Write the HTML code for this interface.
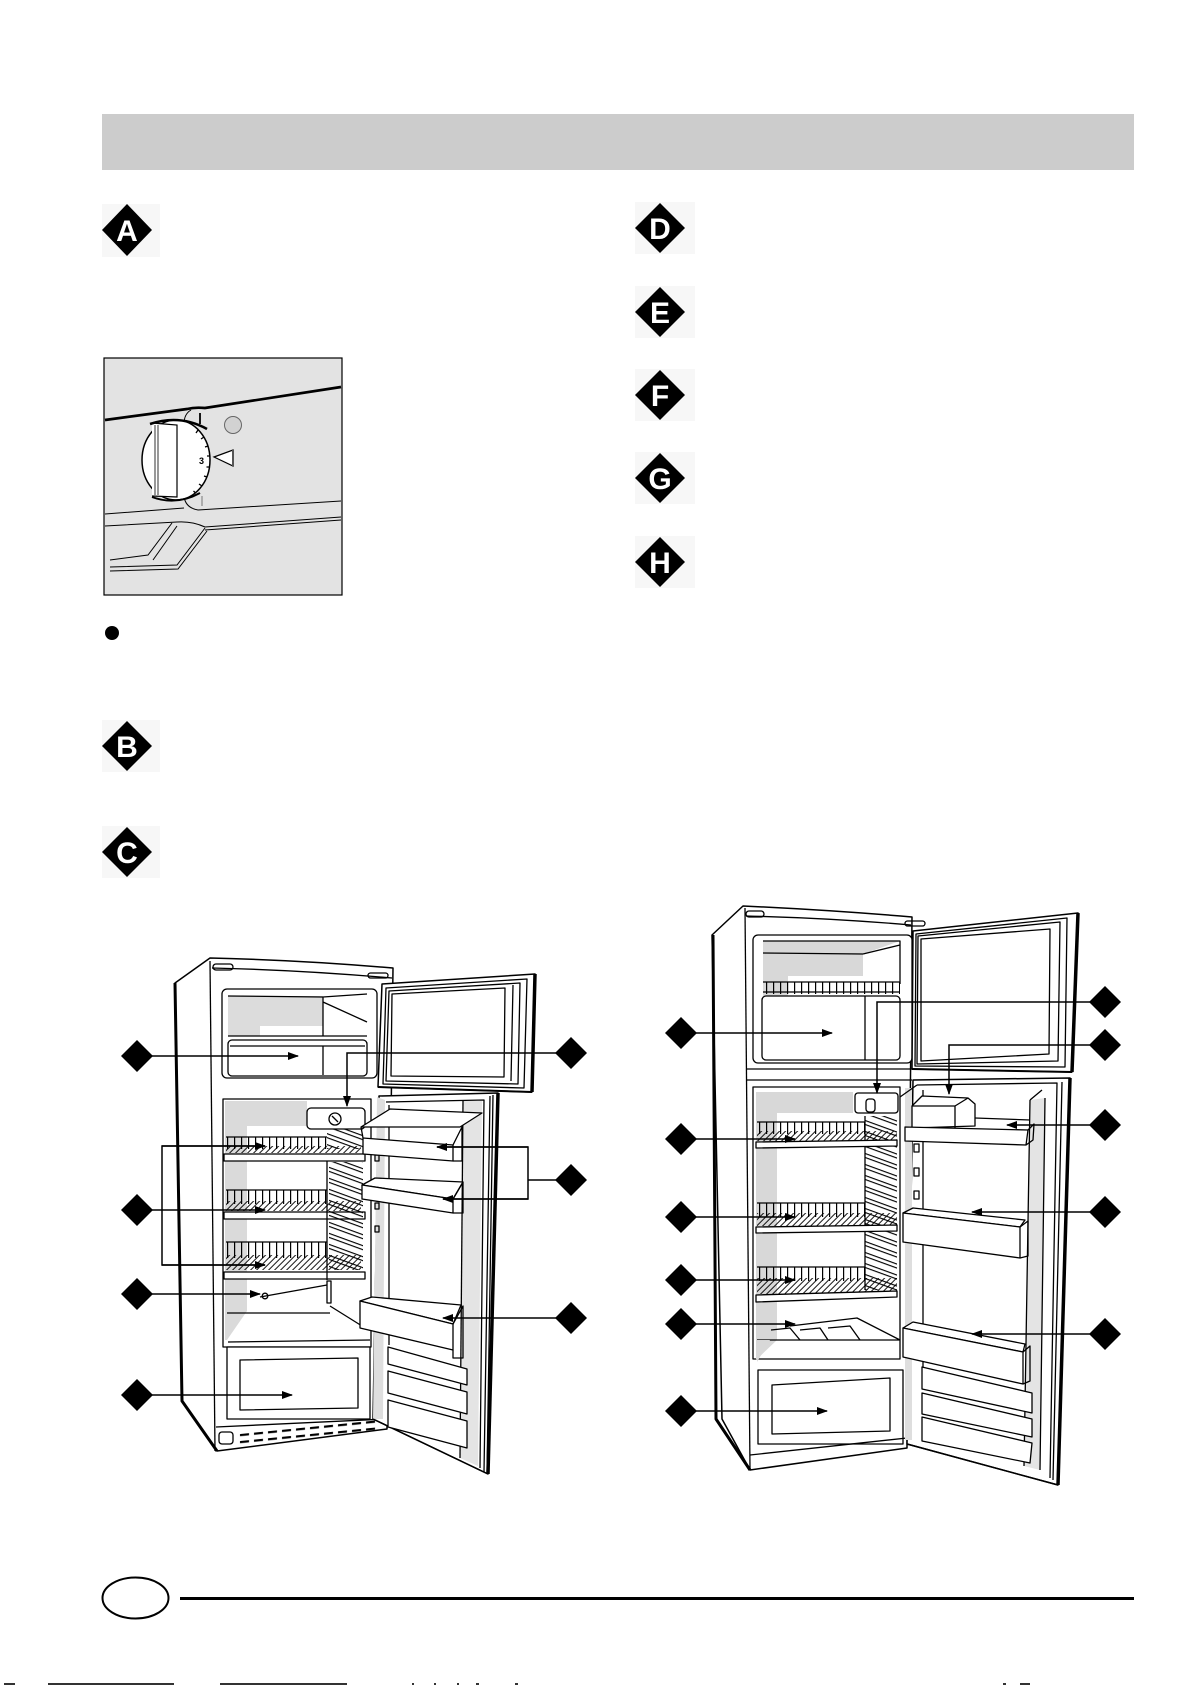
<!DOCTYPE html>
<html><head><meta charset="utf-8"><style>
html,body{margin:0;padding:0;background:#fff;}
svg{display:block}
</style></head><body>
<svg width="1191" height="1685" viewBox="0 0 1191 1685" xmlns="http://www.w3.org/2000/svg" font-family="'Liberation Sans', Arial, sans-serif">
<defs>
 <marker id="ah" markerWidth="11" markerHeight="8" refX="10" refY="4" orient="auto" markerUnits="userSpaceOnUse"><path d="M0,0 L11,4 L0,8 Z" fill="#000"/></marker>
 <pattern id="vw" width="7" height="60" patternUnits="userSpaceOnUse"><rect x="3" y="0" width="1.2" height="60" fill="#000"/></pattern>
 <pattern id="hat" width="6" height="60" patternUnits="userSpaceOnUse" patternTransform="skewX(-45)"><rect x="2" y="0" width="1.3" height="60" fill="#000"/></pattern>
 <pattern id="rib" width="60" height="11" patternUnits="userSpaceOnUse" patternTransform="skewY(20)"><rect x="0" y="2" width="60" height="1.2" fill="#000"/><rect x="0" y="6" width="60" height="1.2" fill="#000"/></pattern>
 <pattern id="vent" width="14" height="12" patternUnits="userSpaceOnUse"><rect x="2" y="1" width="9" height="2.2" fill="#000"/><rect x="2" y="6" width="9" height="2.2" fill="#000"/></pattern>
</defs>

<!-- header bar -->
<rect x="102" y="114" width="1032" height="56" fill="#cccccc"/>

<!-- section markers -->
<g font-weight="bold" font-size="30" text-anchor="middle">
 <rect x="102" y="204" width="58" height="53" fill="#f7f7f7"/>
 <polygon points="127,204 152,230 127,256 102,230" fill="#000"/>
 <text x="127" y="241" fill="#fff">A</text>

 <rect x="102" y="720" width="58" height="52" fill="#f7f7f7"/>
 <polygon points="127,721 152,746 127,771 102,746" fill="#000"/>
 <text x="127" y="757" fill="#fff">B</text>

 <rect x="102" y="826" width="58" height="52" fill="#f7f7f7"/>
 <polygon points="127,827 152,852 127,877 102,852" fill="#000"/>
 <text x="127" y="863" fill="#fff">C</text>

 <rect x="635" y="202" width="60" height="52" fill="#f7f7f7"/>
 <polygon points="660,203 685,228 660,253 635,228" fill="#000"/>
 <text x="660" y="239" fill="#fff">D</text>

 <rect x="635" y="286" width="60" height="52" fill="#f7f7f7"/>
 <polygon points="660,287 685,312 660,337 635,312" fill="#000"/>
 <text x="660" y="323" fill="#fff">E</text>

 <rect x="635" y="369" width="60" height="52" fill="#f7f7f7"/>
 <polygon points="660,370 685,395 660,420 635,395" fill="#000"/>
 <text x="660" y="406" fill="#fff">F</text>

 <rect x="635" y="452" width="60" height="52" fill="#f7f7f7"/>
 <polygon points="660,453 685,478 660,503 635,478" fill="#000"/>
 <text x="660" y="489" fill="#fff">G</text>

 <rect x="635" y="536" width="60" height="52" fill="#f7f7f7"/>
 <polygon points="660,537 685,562 660,587 635,562" fill="#000"/>
 <text x="660" y="573" fill="#fff">H</text>
</g>

<!-- bullet -->
<circle cx="112" cy="633" r="7" fill="#000"/>

<!-- knob panel -->
<g fill="none" stroke="#000">
 <rect x="104" y="358" width="238" height="237" fill="#e3e3e3" stroke-width="1.2"/>
 <path d="M105,420 L187,409 Q195,407 205,408 L341,387" stroke-width="2.7"/>
 <path d="M191,410 Q184,414 184,424 L184,497 Q186,508 198,510" stroke-width="1"/>
 <path d="M105,514 L184,508 M198,510 L341,501" stroke-width="1"/>
 <path d="M105,526 L177,522 Q192,521 205,527 L341,517" stroke-width="1"/>
 <path d="M205,530 L341,520" stroke-width="1"/>
 <path d="M110,560 L148,555 L172,523" stroke-width="1"/>
 <path d="M110,567 L177,565 L205,528" stroke-width="1"/>
 <path d="M110,571 L178,569 L207,531" stroke-width="1"/>
 <path d="M153,560 L177,526" stroke-width="1"/>
 <path d="M200,413 L200,424" stroke-width="1.8"/>
 <path d="M202,496 L202,506" stroke-width="1" stroke="#777"/>
 <circle cx="233" cy="425" r="8.5" fill="#d2d2d2" stroke="#666" stroke-width="1"/>
 <ellipse cx="176" cy="460" rx="34" ry="40" fill="#fff" stroke-width="1.5"/>
 <path d="M152,423 L177,425 L177,497 L152,496" fill="#fff" stroke-width="1.2"/>
 <path d="M155,425 L155,495 M158,425 L158,495" stroke-width="0.8"/>
 <path d="M150,424 Q180,414 207,429" stroke-width="2.6"/>
 <path d="M152,497 Q176,506 200,493" stroke-width="2"/>
 <path d="M198,430 L196,433 M204,437 L201,439 M208,446 L205,447 M210,456 L207,456 M209.5,467 L206.5,467 M207,477 L204,476 M202,486 L199,484 M195.5,493 L193.5,491" stroke-width="1.3"/>
 <polygon points="214,457 233,450 233,466" fill="#fff" stroke-width="1.2"/>
 <path d="M233,450 L233,466" stroke-width="2" stroke="#555"/>
</g>
<text x="199" y="464" font-size="9" font-weight="bold" fill="#000">3</text>

<!-- ================= LEFT FRIDGE ================= -->
<g fill="none" stroke="#000" stroke-width="1.3" stroke-linejoin="round">
 <!-- cabinet -->
 <path d="M175,983 L210,958 Q300,960 393,968 L387,1429 L217,1451 L182,1401 Z" fill="#fff" stroke-width="1.5"/>
 <path d="M175,983 L182,1401 L217,1451" stroke-width="3"/>
 <path d="M210,961 L215,1451"/>
 <path d="M212,968 Q300,970 392,978"/>
 <rect x="213" y="964" width="20" height="6" rx="3"/>
 <rect x="368" y="973" width="20" height="5" rx="2.5"/>
 <!-- freezer compartment -->
 <rect x="222" y="989" width="155" height="89" rx="5" fill="#fff"/>
 <path d="M228,996 L323,996 L323,1026 L260,1026 L260,1036 L228,1036 Z" fill="#dcdcdc" stroke="none"/>
 <path d="M228,996 L323,997 L367,994 M323,997 L323,1036 M228,1036 L367,1036 M323,1002 L367,1022" />
 <rect x="228" y="1040" width="139" height="36" rx="4" fill="#fff"/>
 <path d="M230,1046 L365,1046 M323,1046 L323,1075"/>
 <!-- fridge compartment -->
 <rect x="223" y="1099" width="148" height="248" fill="#fff"/>
 <path d="M225,1101 L307,1101 L307,1126 L247,1126 L247,1311 L227,1340 L225,1340 Z" fill="#dadada" stroke="none"/>
 <rect x="307" y="1108" width="58" height="21" rx="4" fill="#fff"/>
 <circle cx="335" cy="1119" r="6"/>
 <path d="M332,1116 L338,1122"/>
 <rect x="327" y="1129" width="36" height="20" fill="url(#rib)" stroke="none"/>
 <!-- shelves -->
 <rect x="226" y="1137" width="101" height="12" fill="url(#vw)" stroke="none"/>
 <rect x="226" y="1146" width="135" height="7" fill="url(#hat)" stroke="none"/>
 <path d="M226,1137 L327,1137"/>
 <path d="M224,1154 L365,1154 L365,1161 L224,1161 Z" fill="#fff"/>
 <rect x="226" y="1190" width="101" height="14" fill="url(#vw)" stroke="none"/>
 <rect x="226" y="1201" width="135" height="10" fill="url(#hat)" stroke="none"/>
 <path d="M226,1190 L327,1190"/>
 <path d="M224,1212 L365,1212 L365,1219 L224,1219 Z" fill="#fff"/>
 <rect x="226" y="1242" width="101" height="16" fill="url(#vw)" stroke="none"/>
 <rect x="226" y="1255" width="135" height="15" fill="url(#hat)" stroke="none"/>
 <path d="M226,1242 L327,1242"/>
 <path d="M224,1272 L365,1272 L365,1279 L224,1279 Z" fill="#fff"/>
 <rect x="329" y="1162" width="34" height="108" fill="url(#rib)" stroke="none"/>
 <path d="M327,1161 L327,1280"/>
 <!-- lamp / rest -->
 <path d="M260,1297 L327,1285"/>
 <circle cx="265" cy="1296" r="2.8"/>
 <rect x="327" y="1281" width="4" height="22"/>
 <path d="M227,1313 L330,1313 M330,1306 L362,1326"/>
 <!-- crisper -->
 <rect x="227" y="1347" width="143" height="72" fill="#fff"/>
 <path d="M240,1360 L358,1358 L358,1408 L240,1410 Z"/>
 <path d="M228,1342 L370,1340"/>
 <!-- base / vent -->
 <path d="M216,1427 L386,1419"/>
 <g transform="skewY(-5.7)">
  <rect x="238" y="1456" width="140" height="12" fill="url(#vent)" stroke="none"/>
 </g>
 <rect x="219" y="1432" width="14" height="12" rx="3"/>
 <!-- freezer door -->
 <path d="M382,984 L535,974 L532,1092 L378,1087 Z" fill="#fff" stroke-width="1.5"/>
 <path d="M386,988 L527,979 L524,1088 L383,1084 Z"/>
 <path d="M389,991 L520,983 L518,1084 L386,1081 Z"/>
 <path d="M392,994 L505,988 L504,1077 L391,1076 Z" stroke-width="1.3"/>
 <path d="M513,985 L511,1081"/>
 <path d="M535,974 L532,1092" stroke-width="3.5"/>
 <path d="M378,1087 L532,1092" stroke-width="2"/>
 <!-- fridge door -->
 <path d="M379,1096 L498,1093 L488,1474 L373,1419 Z" fill="#fff" stroke-width="1.5"/>
 <path d="M377,1097 L385,1100 L383,1419 L373,1419 Z" fill="#dedede" stroke="none"/>
 <path d="M463,1101 L482,1101 L478,1466 L460,1458 Z" fill="#e4e4e4" stroke="none"/>
 <path d="M386,1102 L484,1100 L480,1468"/>
 <path d="M463,1101 L460,1458"/>
 <path d="M389,1105 L389,1345"/>
 <path d="M490,1096 L484,1472 M493,1095 L487,1473"/>
 <path d="M498,1093 L488,1474" stroke-width="3.5"/>
 <path d="M373,1419 L488,1474" stroke-width="1.5"/>
 <rect x="375" y="1155" width="4" height="6"/>
 <rect x="375" y="1203" width="4" height="6"/>
 <rect x="375" y="1226" width="4" height="6"/>
 <!-- door balconies -->
 <path d="M361,1127 L390,1109 L482,1113 L460,1127 Z" fill="#fff"/>
 <path d="M363,1138 L453,1145 L453,1161 L363,1154 Z" fill="#fff"/>
 <path d="M453,1145 L462,1127 L462,1161 L453,1161"/>
 <path d="M363,1138 L361,1127"/>
 <path d="M362,1185 L375,1178 L463,1182 L453,1199 Z" fill="#fff"/>
 <path d="M362,1185 L453,1199 L453,1213 L362,1199 Z" fill="#fff"/>
 <path d="M453,1199 L463,1182 L463,1213 L453,1213"/>
 <path d="M360,1301 L372,1297 L461,1305 L453,1324 Z" fill="#fff"/>
 <path d="M360,1301 L453,1324 L453,1350 L360,1328 Z" fill="#fff"/>
 <path d="M453,1324 L463,1306 L463,1358 L453,1358 L453,1350"/>
 <!-- lower door panels -->
 <path d="M388,1347 L467,1369 L467,1385 L388,1364 Z" fill="#fff"/>
 <path d="M388,1371 L467,1392 L467,1414 L388,1393 Z" fill="#fff"/>
 <path d="M388,1400 L467,1421 L467,1448 L388,1427 Z" fill="#fff"/>
</g>

<!-- left fridge labels -->
<g stroke="#000" stroke-width="1.5" fill="none">
 <line x1="137" y1="1056" x2="298" y2="1056" marker-end="url(#ah)"/>
 <line x1="137" y1="1210" x2="265" y2="1210" marker-end="url(#ah)"/>
 <path d="M265,1146 L162,1146 L162,1265 L265,1265" stroke-width="1.5"/>
 <line x1="162" y1="1146" x2="265" y2="1146" marker-end="url(#ah)"/>
 <line x1="162" y1="1265" x2="265" y2="1265" marker-end="url(#ah)"/>
 <line x1="137" y1="1294" x2="260" y2="1294" marker-end="url(#ah)"/>
 <line x1="137" y1="1395" x2="292" y2="1395" marker-end="url(#ah)"/>
 <path d="M571,1053 L347,1053 L347,1106" marker-end="url(#ah)"/>
 <line x1="571" y1="1180" x2="528" y2="1180"/>
 <path d="M437,1147 L528,1147 L528,1199 L443,1199"/>
 <line x1="528" y1="1147" x2="437" y2="1147" marker-end="url(#ah)"/>
 <line x1="528" y1="1199" x2="443" y2="1199" marker-end="url(#ah)"/>
 <line x1="571" y1="1318" x2="443" y2="1318" marker-end="url(#ah)"/>
</g>
<g fill="#000">
 <polygon points="137,1040 153,1056 137,1072 121,1056"/>
 <polygon points="137,1194 153,1210 137,1226 121,1210"/>
 <polygon points="137,1278 153,1294 137,1310 121,1294"/>
 <polygon points="137,1379 153,1395 137,1411 121,1395"/>
 <polygon points="571,1037 587,1053 571,1069 555,1053"/>
 <polygon points="571,1164 587,1180 571,1196 555,1180"/>
 <polygon points="571,1302 587,1318 571,1334 555,1318"/>
</g>

<!-- ================= RIGHT FRIDGE ================= -->
<g fill="none" stroke="#000" stroke-width="1.3" stroke-linejoin="round">
 <path d="M712,935 L743,906 Q830,910 912,917 L907,1448 L750,1470 L722,1419 Z" fill="#fff" stroke-width="1.5"/>
 <path d="M713,935 L716,1419 L750,1470" stroke-width="3"/>
 <path d="M745,908 L750,1470"/>
 <path d="M746,916 Q830,918 911,925"/>
 <rect x="746" y="911" width="18" height="6" rx="3"/>
 <rect x="905" y="921" width="20" height="5" rx="2.5"/>
 <!-- freezer -->
 <rect x="753" y="935" width="159" height="128" rx="5" fill="#fff"/>
 <path d="M763,941 L900,941 L863,954 L863,976 L788,976 L788,1058 L763,1058 Z" fill="#d8d8d8" stroke="none"/>
 <path d="M763,941 L900,941 L900,984 M863,954 L900,945 M863,954 L763,953"/>
 <rect x="763" y="982" width="137" height="12" fill="url(#vw)" stroke="none"/>
 <path d="M763,982 L900,982 M763,992 L900,992"/>
 <rect x="762" y="996" width="138" height="64" rx="4" fill="#fff"/>
 <path d="M865,996 L865,1060"/>
 <path d="M746,1069 L912,1069 M746,1080 L912,1080"/>
 <!-- fridge compartment -->
 <rect x="753" y="1087" width="147" height="272" fill="#fff"/>
 <path d="M756,1092 L853,1092 L853,1113 L777,1113 L777,1340 L756,1360 Z" fill="#d8d8d8" stroke="none"/>
 <rect x="855" y="1093" width="43" height="20" rx="3" fill="#fff"/>
 <rect x="866" y="1099" width="9" height="13" rx="3"/>
 <rect x="865" y="1116" width="32" height="174" fill="url(#rib)" stroke="none"/>
 <path d="M865,1116 L865,1290"/>
 <!-- shelves -->
 <rect x="757" y="1122" width="108" height="12" fill="url(#vw)" stroke="none"/>
 <rect x="757" y="1131" width="140" height="10" fill="url(#hat)" stroke="none"/>
 <path d="M757,1122 L865,1122"/>
 <path d="M756,1142 L897,1140 L897,1146 L756,1148 Z" fill="#fff"/>
 <rect x="757" y="1203" width="108" height="14" fill="url(#vw)" stroke="none"/>
 <rect x="757" y="1213" width="140" height="13" fill="url(#hat)" stroke="none"/>
 <path d="M757,1203 L865,1203"/>
 <path d="M756,1227 L897,1225 L897,1231 L756,1233 Z" fill="#fff"/>
 <rect x="757" y="1267" width="108" height="14" fill="url(#vw)" stroke="none"/>
 <rect x="757" y="1278" width="140" height="16" fill="url(#hat)" stroke="none"/>
 <path d="M757,1267 L865,1267"/>
 <path d="M756,1295 L897,1291 L897,1297 L756,1302 Z" fill="#fff"/>
 <!-- crisper cover -->
 <path d="M790,1326 L857,1318 L900,1340 M757,1340 L900,1340"/>
 <path d="M771,1330 L790,1328 L800,1340 M800,1330 L820,1328 L828,1340 M828,1328 L850,1326 L860,1340"/>
 <path d="M757,1340 L770,1340 L757,1362 Z" fill="#d8d8d8" stroke="none"/>
 <!-- crisper -->
 <rect x="758" y="1370" width="145" height="74" fill="#fff"/>
 <path d="M772,1385 L890,1378 L890,1431 L772,1434 Z"/>
 <path d="M750,1455 L907,1438"/>
 <!-- freezer door -->
 <path d="M913,931 L1078,913 L1072,1072 L912,1069 Z" fill="#fff" stroke-width="1.5"/>
 <path d="M916,934 L1067,918 L1065,1067 L915,1066 Z"/>
 <path d="M918,936 L1060,922 L1058,1061 L917,1064 Z"/>
 <path d="M921,939 L1050,929 L1049,1054 L921,1061 Z" stroke-width="1.3"/>
 <path d="M1078,913 L1072,1072" stroke-width="3.5"/>
 <path d="M912,1069 L1072,1072" stroke-width="2"/>
 <!-- fridge door -->
 <path d="M913,1080 L1070,1078 L1058,1485 L907,1444 Z" fill="#fff" stroke-width="1.5"/>
 <path d="M905,1088 L912,1088 L912,1440 L905,1440 Z" fill="#dedede" stroke="none"/>
 <path d="M1030,1100 L1045,1098 L1040,1470 L1024,1466 Z" fill="#e4e4e4" stroke="none"/>
 <path d="M917,1085 L1057,1083 L1050,1478"/>
 <path d="M1030,1100 L1024,1466 M1045,1098 L1040,1470"/>
 <path d="M1062,1082 L1053,1480"/>
 <path d="M1070,1078 L1058,1485" stroke-width="3.5"/>
 <path d="M907,1444 L1058,1485" stroke-width="1.5"/>
 <path d="M923,1090 L923,1370"/>
 <rect x="914" y="1144" width="5" height="8"/>
 <rect x="914" y="1168" width="5" height="8"/>
 <rect x="914" y="1191" width="5" height="8"/>
 <path d="M900,1097 L917,1085 M1030,1100 L1042,1090"/>
 <!-- butter -->
 <path d="M912,1106 L922,1096 L968,1098 L975,1104 L975,1126 L912,1128 Z" fill="#fff"/>
 <path d="M912,1106 L955,1106 L955,1128 M955,1106 L968,1098"/>
 <path d="M975,1118 L1030,1120"/>
 <!-- top balcony -->
 <path d="M905,1127 L1028,1130 L1026,1145 L905,1141 Z" fill="#fff"/>
 <path d="M1028,1130 L1034,1124 L1033,1140 L1026,1145"/>
 <!-- middle -->
 <path d="M903,1213 L913,1208 L1025,1220 L1020,1227 Z" fill="#fff"/>
 <path d="M903,1213 L1020,1227 L1020,1258 L903,1242 Z" fill="#fff"/>
 <path d="M1020,1227 L1028,1221 L1028,1256 L1020,1258"/>
 <!-- bottom -->
 <path d="M903,1328 L913,1322 L1025,1344 L1023,1352 Z" fill="#fff"/>
 <path d="M903,1328 L1023,1352 L1023,1384 L903,1357 Z" fill="#fff"/>
 <path d="M1023,1352 L1030,1346 L1030,1381 L1023,1384"/>
 <!-- lower panels -->
 <path d="M922,1367 L1032,1393 L1032,1413 L922,1389 Z" fill="#fff"/>
 <path d="M922,1393 L1032,1419 L1032,1437 L922,1414 Z" fill="#fff"/>
 <path d="M922,1417 L1032,1443 L1030,1463 L922,1441 Z" fill="#fff"/>
</g>

<!-- right fridge labels -->
<g stroke="#000" stroke-width="1.5" fill="none">
 <line x1="681" y1="1033" x2="832" y2="1033" marker-end="url(#ah)"/>
 <line x1="681" y1="1139" x2="795" y2="1139" marker-end="url(#ah)"/>
 <line x1="681" y1="1217" x2="795" y2="1217" marker-end="url(#ah)"/>
 <line x1="681" y1="1280" x2="795" y2="1280" marker-end="url(#ah)"/>
 <line x1="681" y1="1324" x2="795" y2="1324" marker-end="url(#ah)"/>
 <line x1="681" y1="1411" x2="827" y2="1411" marker-end="url(#ah)"/>
 <path d="M1105,1002 L877,1002 L877,1093" marker-end="url(#ah)"/>
 <path d="M1105,1045 L949,1045 L949,1094" marker-end="url(#ah)"/>
 <line x1="1105" y1="1125" x2="1007" y2="1125" marker-end="url(#ah)"/>
 <line x1="1105" y1="1212" x2="972" y2="1212" marker-end="url(#ah)"/>
 <line x1="1105" y1="1334" x2="972" y2="1334" marker-end="url(#ah)"/>
</g>
<g fill="#000">
 <polygon points="681,1017 697,1033 681,1049 665,1033"/>
 <polygon points="681,1123 697,1139 681,1155 665,1139"/>
 <polygon points="681,1201 697,1217 681,1233 665,1217"/>
 <polygon points="681,1264 697,1280 681,1296 665,1280"/>
 <polygon points="681,1308 697,1324 681,1340 665,1324"/>
 <polygon points="681,1395 697,1411 681,1427 665,1411"/>
 <polygon points="1105,986 1121,1002 1105,1018 1089,1002"/>
 <polygon points="1105,1029 1121,1045 1105,1061 1089,1045"/>
 <polygon points="1105,1109 1121,1125 1105,1141 1089,1125"/>
 <polygon points="1105,1196 1121,1212 1105,1228 1089,1212"/>
 <polygon points="1105,1318 1121,1334 1105,1350 1089,1334"/>
</g>

<!-- footer -->
<ellipse cx="135.5" cy="1598" rx="33" ry="20.5" fill="none" stroke="#000" stroke-width="2"/>
<rect x="180" y="1597" width="954" height="3" fill="#000"/>
<g fill="#333">
 <rect x="4" y="1683" width="11" height="2"/>
 <rect x="48" y="1683" width="126" height="2"/>
 <rect x="220" y="1683" width="127" height="2"/>
 <rect x="412" y="1683" width="2" height="2"/>
 <rect x="434" y="1683" width="2" height="2"/>
 <rect x="457" y="1683" width="2" height="2"/>
 <rect x="476" y="1683" width="3" height="2"/>
 <rect x="515" y="1683" width="3" height="2"/>
 <rect x="1003" y="1683" width="3" height="2"/>
 <rect x="1020" y="1683" width="10" height="2"/>
</g>
</svg>
</body></html>
